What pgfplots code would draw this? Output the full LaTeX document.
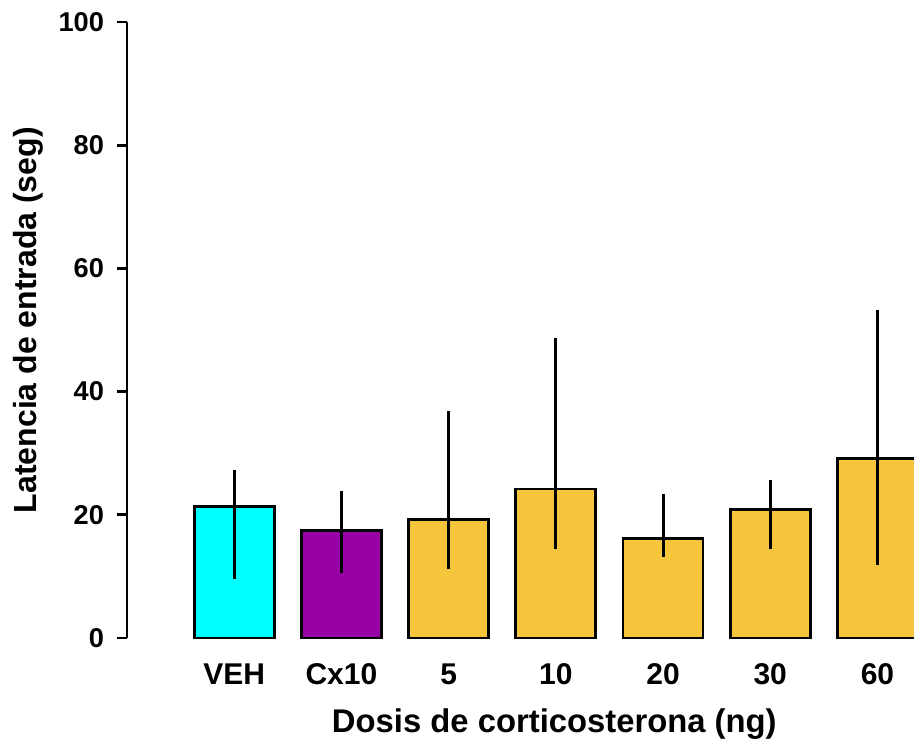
\documentclass[border=0pt]{standalone}
\usepackage{pgfplots}
\pgfplotsset{compat=1.18}
\usepackage{fontspec}
\setmainfont{Liberation Sans}

\definecolor{vehcyan}{RGB}{0,255,255}
\definecolor{cxpurple}{RGB}{150,0,165}
\definecolor{dosegold}{RGB}{245,198,60}

\begin{document}
\begin{tikzpicture}
% fixed frame: 1px of the reference = 0.5pt
\useasboundingbox (-63.5pt,-52.5pt) rectangle (393.5pt,319pt);
\begin{axis}[
    scale only axis,
    width=393.5pt,
    height=308pt,
    xmin=0, xmax=7.341,
    ymin=0, ymax=100,
    axis lines=left,
    x axis line style={draw=none},
    y axis line style={-, line width=1.4pt},
    ytick={0,20,40,60,80,100},
    xtick={1,2,3,4,5,6,7},
    xticklabels={VEH, Cx10, 5, 10, 20, 30, 60},
    xtick style={draw=none},
    ytick style={line width=1.4pt, black},
    tick align=outside,
    major tick length=5pt,
    /pgf/number format/assume math mode=true,
    yticklabel style={font=\bfseries\fontsize{13.6}{13.6}\selectfont, xshift=-3pt},
    xticklabel style={font=\bfseries\fontsize{15}{15}\selectfont, anchor=base, yshift=-18pt},
    ylabel={Latencia de entrada (seg)},
    xlabel={Dosis de corticosterona (ng)},
    ylabel style={font=\bfseries\fontsize{16}{16}\selectfont, at={(axis description cs:-0.1449,0.516)}, anchor=north, inner sep=0pt, rotate=0},
    xlabel style={font=\bfseries\fontsize{16.4}{16.4}\selectfont, at={(axis description cs:0.543,-0.1542)}, anchor=base, inner sep=0pt},
    bar width=40pt,
    clip=true,
]
\addplot[ybar, fill=vehcyan, draw=black, line width=1.4pt,
    error bars/.cd, y dir=both, y explicit, error mark=none,
    error bar style={line width=1.5pt, black}]
    coordinates {(1,21.4) += (0,5.9) -= (0,11.8)};
\addplot[ybar, fill=cxpurple, draw=black, line width=1.4pt,
    error bars/.cd, y dir=both, y explicit, error mark=none,
    error bar style={line width=1.5pt, black}]
    coordinates {(2,17.5) += (0,6.4) -= (0,6.9)};
\addplot[ybar, fill=dosegold, draw=black, line width=1.4pt,
    error bars/.cd, y dir=both, y explicit, error mark=none,
    error bar style={line width=1.5pt, black}]
    coordinates {
    (3,19.3) += (0,17.6) -= (0,8.1)
    (4,24.2) += (0,24.5) -= (0,9.8)
    (5,16.2) += (0,7.2) -= (0,3.1)
    (6,20.8) += (0,4.8) -= (0,6.4)
    (7,29.1) += (0,24.1) -= (0,17.3)
    };
\end{axis}
\end{tikzpicture}
\end{document}
